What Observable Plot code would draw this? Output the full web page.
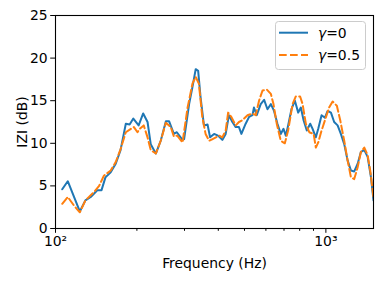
<!DOCTYPE html>
<html><head><meta charset="utf-8">
<script src="https://cdn.jsdelivr.net/npm/d3@7"></script>
<script src="https://cdn.jsdelivr.net/npm/@observablehq/plot@0.6"></script>
<style>body{margin:0;background:#fff} svg{font-family:"DejaVu Sans";}</style>
</head><body><div id="chart"></div>
<script>
// gamma = 0 (blue, solid)
const freq0 = [105.9,111,123,129,135,143,148,153,160,167,174,182,188,194,203,211,219,225,235,245,256,263,274,281,295,299,312,321,330,337,344,354,365,373,386,399,414,426,438,451,464,477,487,505,520,535,542,555,574,591,608,626,643,662,681,697,711,725,746,768,790,808,827,850,875,893,918,937,964,992,1015,1044,1073,1105,1136,1169,1203,1238,1273,1311,1348,1387,1427,1468,1500];
const z0 = [4.6,5.55,2.0,3.3,3.7,4.5,4.5,6.0,6.6,7.6,9.2,12.3,12.2,12.9,12.1,13.5,12.5,9.9,8.8,10.3,12.6,12.6,11.1,11.3,10.4,10.5,14.6,16.6,18.7,18.5,15.4,12.1,12.2,10.7,11.1,10.9,10.4,11.1,13.3,12.5,11.9,11.9,11.1,12.3,13.1,13.3,14.2,13.3,14.6,15.1,14.0,14.6,13.8,12.3,11.1,11.7,10.9,12.1,14.0,15.0,13.6,14.2,12.7,11.5,12.3,11.7,10.7,11.7,13.3,13.0,13.8,13.6,12.5,12.1,11.1,9.9,8.0,6.8,6.7,7.6,9.0,9.2,8.4,6.0,3.3];
// gamma = 0.5 (orange, dashed)
const freq05 = [105.9,111,117,123,129,139,145,151,160,167,174,182,190,195,201,205,212,219,225,235,245,256,267,274,282,295,308,321,330,339,349,359,370,381,403,414,426,435,447,464,477,491,513,535,550,566,583,605,626,640,658,681,705,725,753,774,803,820,843,868,901,918,937,964,992,1028,1059,1098,1130,1169,1203,1238,1273,1311,1348,1387,1427,1459,1489,1500];
const z05 = [2.9,3.7,2.7,1.9,3.3,4.3,5.0,6.2,6.8,7.8,9.3,11.3,11.7,11.9,11.3,11.7,12.1,10.7,9.2,8.8,10.3,12.4,11.9,10.8,10.9,10.1,14.2,17.0,17.8,17.0,13.1,11.1,10.3,10.5,10.9,10.7,11.5,13.6,13.1,12.1,12.5,12.7,13.3,13.5,13.3,15.0,16.2,16.3,15.8,14.6,12.3,10.3,10.0,11.5,14.6,15.5,15.5,14.6,12.3,11.3,11.1,9.5,10.1,11.5,12.7,14.2,14.9,14.4,12.7,10.3,8.0,6.0,5.8,7.2,9.0,9.5,8.6,6.8,4.5,3.6];
const yTicks = [0,5,10,15,20,25];
const xMajor = [100,1000];
const xMajorLabels = ["10²","10³"];
const xMinor = [200,300,400,500,600,700,800,900];
const seriesNames = ["0","0.5"];
const colors = ["#1f77b4","#ff7f0e"];

const dataA = freq0.map((f,i)=>({f, z:z0[i]}));
const dataB = freq05.map((f,i)=>({f, z:z05[i]}));
const FS = 13.9;

const chart = Plot.plot({
  width:383, height:281, marginLeft:55, marginRight:10, marginTop:15, marginBottom:53,
  style:{fontFamily:"DejaVu Sans", fontSize:FS+"px", color:"#000", background:"#fff", overflow:"visible"},
  x:{type:"log", domain:[100,1500]},
  y:{domain:[0,25]},
  marks:[
    Plot.line(dataA, {x:"f", y:"z", stroke:colors[0], strokeWidth:2, clip:true}),
    Plot.line(dataB, {x:"f", y:"z", stroke:colors[1], strokeWidth:2, strokeDasharray:"7.7,3.3", clip:true}),
    Plot.frame({stroke:"#000", strokeWidth:1.1}),
    Plot.axisY({ticks:yTicks, tickSize:4.8, tickPadding:3, label:"IZI (dB)", labelAnchor:"center", labelOffset:38, labelArrow:"none", fontSize:FS}),
    Plot.axisX({ticks:xMajor, tickSize:4.8, tickPadding:3, tickFormat:(d)=>xMajorLabels[xMajor.indexOf(d)], label:"Frequency (Hz)", labelAnchor:"center", labelOffset:39, labelArrow:"none", fontSize:FS}),
    Plot.axisX({ticks:xMinor, tickSize:2.8, tickFormat:()=>"", label:null})
  ]
});
document.getElementById("chart").appendChild(chart);

// legend
const svg = d3.select(chart);
const g = svg.append("g").attr("font-family","DejaVu Sans").attr("font-size",FS).attr("text-anchor","start");
g.append("rect").attr("x",275.5).attr("y",21.5).attr("width",90).attr("height",48)
  .attr("rx",3).attr("fill","#fff").attr("fill-opacity",0.8).attr("stroke","#cccccc").attr("stroke-width",1);
seriesNames.forEach((n,i)=>{
  const yy = 32.7 + i*22.3;
  const ln = g.append("line").attr("x1",279).attr("x2",308).attr("y1",yy).attr("y2",yy)
    .attr("stroke",colors[i]).attr("stroke-width",2);
  if(i===1) ln.attr("stroke-dasharray","7.7,3.3");
  const t = g.append("text").attr("x",318).attr("y",yy).attr("dy","0.36em").attr("fill","#000");
  t.append("tspan").attr("font-style","italic").text("γ");
  t.append("tspan").text("="+n);
});
</script></body></html>
